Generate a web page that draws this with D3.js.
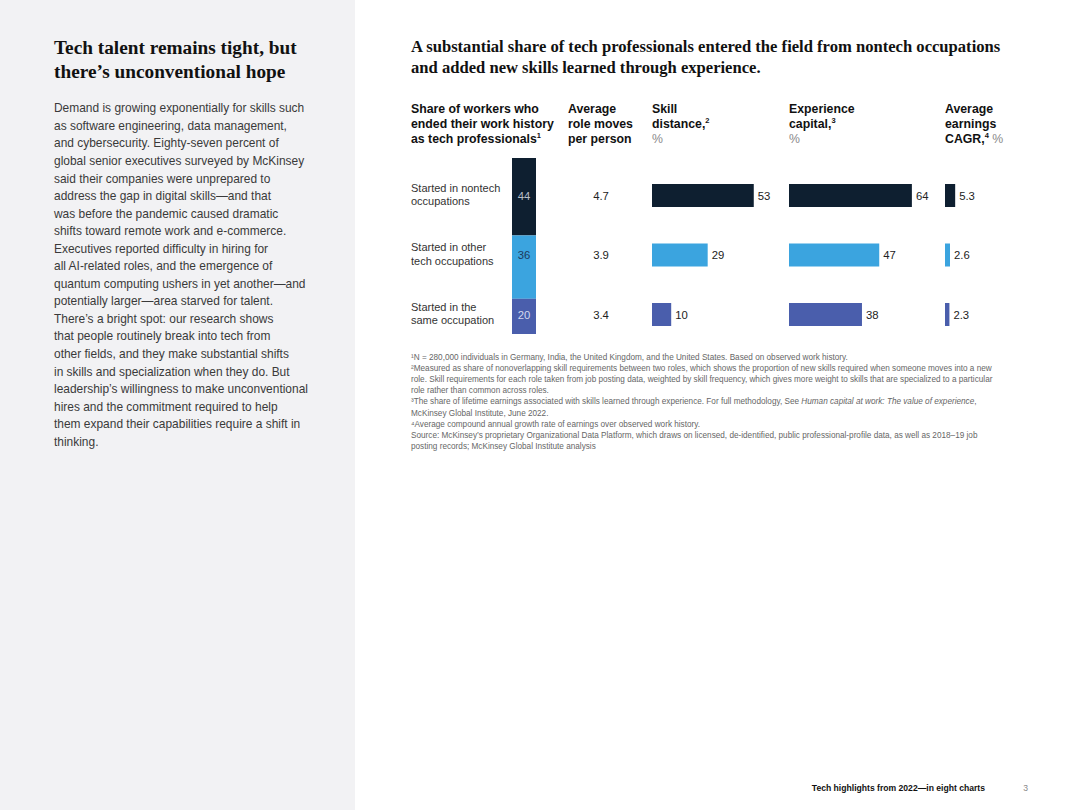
<!DOCTYPE html>
<html>
<head>
<meta charset="utf-8">
<script src="https://cdn.jsdelivr.net/npm/d3@7"></script>
<style>
  html, body { margin: 0; padding: 0; background: #ffffff; }
  svg { display: block; }
</style>
</head>
<body>
<svg id="chart" width="1080" height="810"></svg>
<script>
// ---------------- DATA ----------------
const categories = ["Started in nontech occupations", "Started in other tech occupations", "Started in the same occupation"];
const categoryLines = [["Started in nontech", "occupations"], ["Started in other", "tech occupations"], ["Started in the", "same occupation"]];
const shareOfWorkers = [44, 36, 20];
const roleMoves = [4.7, 3.9, 3.4];
const skillDistance = [53, 29, 10];
const experienceCapital = [64, 47, 38];
const earningsCagr = [5.3, 2.6, 2.3];
const seriesColors = ["#0e1f30", "#3ba4df", "#4a5eac"];
const shareLabelColors = ["#b9bec7", "#1d3a5c", "#d3d8ee"];

const leftTitle = ["Tech talent remains tight, but", "there\u2019s unconventional hope"];
const leftBody = [
  "Demand is growing exponentially for skills such",
  "as software engineering, data management,",
  "and cybersecurity. Eighty-seven percent of",
  "global senior executives surveyed by McKinsey",
  "said their companies were unprepared to",
  "address the gap in digital skills\u2014and that",
  "was before the pandemic caused dramatic",
  "shifts toward remote work and e-commerce.",
  "Executives reported difficulty in hiring for",
  "all AI-related roles, and the emergence of",
  "quantum computing ushers in yet another\u2014and",
  "potentially larger\u2014area starved for talent.",
  "There\u2019s a bright spot: our research shows",
  "that people routinely break into tech from",
  "other fields, and they make substantial shifts",
  "in skills and specialization when they do. But",
  "leadership\u2019s willingness to make unconventional",
  "hires and the commitment required to help",
  "them expand their capabilities require a shift in",
  "thinking."
];
const chartTitle = [
  "A substantial share of tech professionals entered the field from nontech occupations",
  "and added new skills learned through experience."
];
const footnotes = [
  [{t: "\u00b9N = 280,000 individuals in Germany, India, the United Kingdom, and the United States. Based on observed work history."}],
  [{t: "\u00b2Measured as share of nonoverlapping skill requirements between two roles, which shows the proportion of new skills required when someone moves into a new"}],
  [{t: "role. Skill requirements for each role taken from job posting data, weighted by skill frequency, which gives more weight to skills that are specialized to a particular"}],
  [{t: "role rather than common across roles."}],
  [{t: "\u00b3The share of lifetime earnings associated with skills learned through experience. For full methodology, See "}, {t: "Human capital at work: The value of experience", i: true}, {t: ","}],
  [{t: "McKinsey Global Institute, June 2022."}],
  [{t: "\u2074Average compound annual growth rate of earnings over observed work history."}],
  [{t: "Source: McKinsey\u2019s proprietary Organizational Data Platform, which draws on licensed, de-identified, public professional-profile data, as well as 2018\u201319 job"}],
  [{t: "posting records; McKinsey Global Institute analysis"}]
];
const footerText = "Tech highlights from 2022\u2014in eight charts";
const pageNumber = "3";

// ---------------- LAYOUT ----------------
const svg = d3.select("#chart");
const SANS = "'Liberation Sans', Arial, sans-serif";
const SERIF = "'Liberation Serif', 'Times New Roman', serif";

// left panel
svg.append("rect").attr("x", 0).attr("y", 0).attr("width", 355).attr("height", 810).attr("fill", "#f2f2f4");

svg.append("g").selectAll("text").data(leftTitle).join("text")
  .attr("x", 54).attr("y", (d, i) => 54 + i * 24)
  .attr("font-family", SERIF).attr("font-weight", "bold").attr("font-size", 19.3)
  .attr("fill", "#111").text(d => d);

svg.append("g").selectAll("text").data(leftBody).join("text")
  .attr("x", 54).attr("y", (d, i) => 112.3 + i * 17.55)
  .attr("font-family", SANS).attr("font-size", 11.95)
  .attr("fill", "#3a3a3a").text(d => d);

// chart title
svg.append("g").selectAll("text").data(chartTitle).join("text")
  .attr("x", 411).attr("y", (d, i) => 52 + i * 21)
  .attr("font-family", SERIF).attr("font-weight", "bold").attr("font-size", 16.6)
  .attr("fill", "#111").text(d => d);

// column headers
const headers = [
  {x: 411, lines: [[{t: "Share of workers who"}], [{t: "ended their work history"}], [{t: "as tech professionals"}, {t: "1", s: true}]]},
  {x: 568, lines: [[{t: "Average"}], [{t: "role moves"}], [{t: "per person"}]]},
  {x: 652, lines: [[{t: "Skill"}], [{t: "distance,"}, {t: "2", s: true}], [{t: "%", g: true}]]},
  {x: 789, lines: [[{t: "Experience"}], [{t: "capital,"}, {t: "3", s: true}], [{t: "%", g: true}]]},
  {x: 945, lines: [[{t: "Average"}], [{t: "earnings"}], [{t: "CAGR,"}, {t: "4", s: true}, {t: " %", g: true}]]}
];
const hg = svg.append("g");
headers.forEach(h => {
  h.lines.forEach((line, li) => {
    const txt = hg.append("text").attr("x", h.x).attr("y", 112.5 + li * 15)
      .attr("font-family", SANS).attr("font-size", 12.3);
    let prevSup = false;
    line.forEach(seg => {
      const ts = txt.append("tspan").text(seg.t)
        .attr("font-weight", seg.g ? "normal" : "bold")
        .attr("fill", seg.g ? "#8a8a8a" : "#111");
      if (seg.s) { ts.attr("font-size", 7.5).attr("dy", -4.5); prevSup = true; }
      else if (prevSup) { ts.attr("dy", 4.5); prevSup = false; }
    });
  });
});

// scales
const y = d3.scalePoint().domain(categories).range([195.5, 314.5]);
const barH = 23;
const xPct = d3.scaleLinear().domain([0, 100]).range([0, 192]);
const yStack = d3.scaleLinear().domain([0, 100]).range([158, 334]);

// row labels
const rl = svg.append("g");
categories.forEach((c, i) => {
  rl.append("text").attr("x", 411).attr("y", y(c) - 4)
    .attr("font-family", SANS).attr("font-size", 11).attr("fill", "#333")
    .selectAll("tspan").data(categoryLines[i]).join("tspan")
    .attr("x", 411).attr("dy", (d, j) => j === 0 ? 0 : 13.5).text(d => d);
});

// stacked share bar
const stackData = d3.cumsum(shareOfWorkers);
const sg = svg.append("g");
shareOfWorkers.forEach((v, i) => {
  const y0 = yStack(stackData[i] - v), y1 = yStack(stackData[i]);
  sg.append("rect").attr("x", 512).attr("y", y0).attr("width", 24).attr("height", y1 - y0)
    .attr("fill", seriesColors[i]);
  sg.append("text").attr("x", 524).attr("y", y(categories[i]) + 4)
    .attr("text-anchor", "middle").attr("font-family", SANS).attr("font-size", 11.3)
    .attr("fill", shareLabelColors[i]).text(v);
});

// role moves
svg.append("g").selectAll("text").data(roleMoves).join("text")
  .attr("x", 601).attr("y", (d, i) => y(categories[i]) + 4)
  .attr("text-anchor", "middle").attr("font-family", SANS).attr("font-size", 11.3)
  .attr("fill", "#222").text(d => d.toFixed(1));

// bar columns
function barColumn(values, x0, fmt) {
  const g = svg.append("g").attr("transform", `translate(${x0},0)`);
  g.selectAll("rect").data(values).join("rect")
    .attr("x", 0).attr("y", (d, i) => y(categories[i]) - barH / 2)
    .attr("width", d => xPct(d)).attr("height", barH)
    .attr("fill", (d, i) => seriesColors[i]);
  g.selectAll("text").data(values).join("text")
    .attr("x", d => xPct(d) + 4).attr("y", (d, i) => y(categories[i]) + 4)
    .attr("font-family", SANS).attr("font-size", 11.3).attr("fill", "#222")
    .text(fmt);
}
barColumn(skillDistance, 652, d => d);
barColumn(experienceCapital, 789, d => d);
barColumn(earningsCagr, 945, d => d.toFixed(1));

// footnotes
const fg = svg.append("g");
footnotes.forEach((line, i) => {
  const txt = fg.append("text").attr("x", 411).attr("y", 360 + i * 11.1)
    .attr("font-family", SANS).attr("font-size", 8.2).attr("fill", "#666");
  line.forEach(seg => {
    txt.append("tspan").text(seg.t).attr("font-style", seg.i ? "italic" : "normal");
  });
});

// footer
svg.append("text").attr("x", 985).attr("y", 791).attr("text-anchor", "end")
  .attr("font-family", SANS).attr("font-weight", "bold").attr("font-size", 8.6).attr("fill", "#111")
  .text(footerText);
svg.append("text").attr("x", 1028).attr("y", 791).attr("text-anchor", "end")
  .attr("font-family", SANS).attr("font-size", 8.6).attr("fill", "#888")
  .text(pageNumber);
</script>
</body>
</html>
